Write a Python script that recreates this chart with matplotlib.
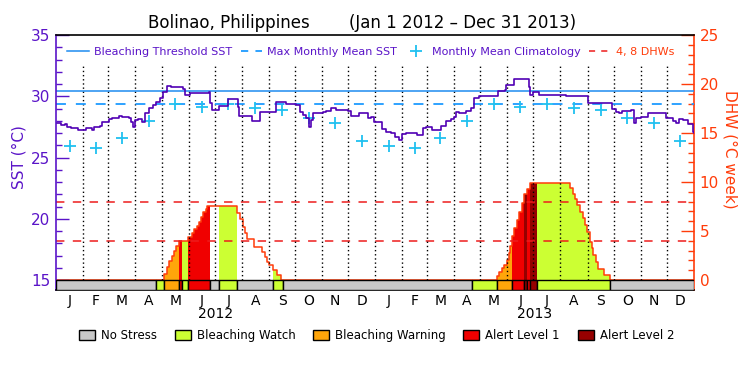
"""Coral Reef Watch style SST / DHW chart for Bolinao, Philippines (2012-2013)."""

import matplotlib.pyplot as plt
import numpy as np
from matplotlib.lines import Line2D
from matplotlib.patches import Patch

# ---- data (days counted from Jan 1 2012) ----
sst_day = [0, 6, 10, 13, 17, 25, 34, 41, 44, 50, 53, 61, 64, 72, 76, 84, 86, 88, 90, 94,
           98, 102, 107, 111, 115, 119, 123, 127, 132, 145, 148, 153, 175, 176.5, 179, 183,
           187, 197, 207, 209, 210, 223, 225, 231, 234, 247, 252, 260, 263, 275, 279, 283,
           286, 290, 292, 295, 298, 306, 309, 315, 321, 334, 338, 347, 353, 357, 361, 364,
           367, 370, 373, 378, 384, 388, 393, 396, 401, 412, 414, 420, 424, 428, 431, 435,
           441, 447, 453, 456, 458, 462, 470, 475, 479, 485, 504, 507, 514, 516, 521, 525,
           540, 542, 543, 546, 553, 582, 584, 606, 609, 634, 637, 642, 645, 649, 659, 662,
           665, 670, 678, 694, 699, 707, 710, 714, 718, 724, 730, 731]
sst_val = [27.79, 27.65, 27.73, 27.47, 27.38, 27.24, 27.38, 27.24, 27.51, 27.57, 27.93, 28.12,
           28.20, 28.41, 28.28, 28.25, 27.93, 27.47, 28.06, 28.12, 27.93, 28.66, 29.01, 29.29,
           29.56, 29.88, 30.37, 30.84, 30.73, 30.57, 30.10, 30.29, 30.35, 29.42, 28.88, 28.85,
           29.20, 29.75, 29.75, 29.15, 28.39, 28.39, 27.98, 27.98, 28.74, 28.74, 29.53, 29.56,
           29.34, 29.29, 28.74, 28.47, 28.20, 27.51, 28.06, 28.66, 28.60, 28.74, 28.82, 29.01,
           28.88, 28.82, 28.41, 28.66, 28.60, 28.20, 28.28, 27.93, 27.90, 27.93, 27.30, 27.11,
           26.97, 26.65, 26.43, 26.92, 26.97, 26.97, 26.84, 27.38, 27.51, 27.47, 27.24, 27.24,
           27.57, 28.00, 28.12, 28.33, 28.74, 28.66, 28.82, 29.01, 29.82, 30.02, 30.02, 30.45,
           30.51, 30.92, 30.92, 31.38, 31.38, 30.78, 30.10, 30.37, 30.10, 30.10, 30.02, 30.02,
           29.42, 29.42, 28.93, 28.74, 28.66, 28.82, 28.88, 27.79, 28.20, 28.33, 28.66, 28.66,
           28.20, 28.00, 27.79, 28.12, 28.06, 27.73, 27.11, 26.97]

clim_val = [25.96, 25.74, 26.57, 27.94, 29.34, 29.15, 29.34, 29.07, 28.84, 28.22, 27.79, 26.32]
threshold_sst = 30.4
mmm_sst = 29.36
dhw_marks = [4, 8]

dhw_day = [0, 124.1, 126.8, 129.8, 132.6, 135.2, 137.5, 141.3, 151.6, 155.5, 158.1, 161.2,
           163.9, 166.2, 168.8, 171.5, 173.4, 207.7, 210.8, 213.9, 216.6, 219.2, 226.9, 235.7,
           239.5, 242.1, 244.4, 249.0, 252.9, 257.5,
           505.7, 508.0, 510.7, 513.3, 516.4, 518.5, 520.5, 522.8, 525.1, 527.9, 530.9, 533.6,
           536.6, 540.0, 543.1, 589.0, 592.0, 594.7, 597.3, 600.4, 603.5, 606.1, 608.8, 611.9,
           613.8, 615.7, 618.8, 621.4, 627.9, 634.8, 731]
dhw_val = [0, 0.58, 1.36, 1.94, 2.45, 2.99, 3.47, 3.98, 4.42, 4.76, 5.17, 5.51,
           5.95, 6.46, 6.97, 7.21, 7.55, 6.80, 6.19, 5.44, 4.76, 4.15, 3.40, 2.89,
           2.38, 1.87, 1.53, 1.02, 0.51, 0,
           0.41, 0.85, 1.19, 1.53, 2.04, 2.72, 3.47, 4.49, 5.27, 6.12, 6.97, 7.82,
           8.78, 9.29, 9.86, 9.35, 8.78, 8.23, 7.65, 6.97, 6.29, 5.61, 4.93, 3.91,
           3.23, 2.55, 1.87, 1.09, 0.51, 0, 0]

status_start = [0, 114.2, 124.1, 141.3, 144.0, 151.6, 176.5, 187.1, 207.7, 249.0, 259.8,
                477.2, 505.7, 522.8, 536.6, 540.0, 543.1, 550.8, 634.8]
status_end = [114.2, 124.1, 141.3, 144.0, 151.6, 176.5, 187.1, 207.7, 249.0, 259.8, 477.2,
              505.7, 522.8, 536.6, 540.0, 543.1, 550.8, 634.8, 731]
status_level = [0, 1, 2, 3, 1, 3, 0, 1, 0, 1, 0,
                1, 2, 3, 4, 3, 4, 1, 0]

level_names = ["No Stress", "Bleaching Watch", "Bleaching Warning", "Alert Level 1", "Alert Level 2"]
level_colors = ["#c8c8c8", "#ccff33", "#ffa50a", "#f00000", "#960000"]
month_letters = list("JFMAMJJASOND") * 2
year_labels = ["2012", "2013"]

PURPLE = "#5a14c8"
SST_LINE = "#5000b4"
ORANGE = "#ff3c0a"
BLUE = "#1e8cf0"
CYAN = "#20c0f0"
RED = "#ee1c1c"

# month edges / centres from the calendar
months = np.arange("2012-01", "2014-02", dtype="datetime64[M]")
month_edge = (months.astype("datetime64[D]") - np.datetime64("2012-01-01")).astype(float)
month_mid = (month_edge[:-1] + month_edge[1:]) / 2
year_mid = [(month_edge[0] + month_edge[12]) / 2, (month_edge[12] + month_edge[24]) / 2]

SST_LO = 15 - 10 / 12.25
DHW_LO = -10 / 9.8

fig = plt.figure(figsize=(7.5, 3.75), dpi=100)
ax = fig.add_axes([56 / 750, 1 - 290 / 375, 638 / 750, 255 / 375])
ax2 = ax.twinx()
ax.set_zorder(ax2.get_zorder() + 1)
ax.patch.set_visible(False)

ax.set_xlim(month_edge[0], month_edge[-1])
ax.set_ylim(SST_LO, 35)
ax2.set_ylim(DHW_LO, 25)

# DHW area coloured by status, then its outline
dhw_day_arr = np.array(dhw_day)
dhw_val_arr = np.array(dhw_val)


def dhw_at(d):
    i = np.searchsorted(dhw_day_arr, d, side="right") - 1
    return dhw_val_arr[i]


for s, e, lev in zip(status_start, status_end, status_level):
    if lev == 0:
        continue
    xs = [s] + [d for d in dhw_day if s < d < e] + [e]
    ys = [dhw_at(x) for x in xs]
    ax2.fill_between(xs, 0, ys, step="post", color=level_colors[lev], linewidth=0)

ax2.step(dhw_day, dhw_val, where="post", color=ORANGE, linewidth=1.1)
for m in dhw_marks:
    ax2.axhline(m, color=RED, linewidth=1.1, dashes=(5.5, 5.5))

# SST part
ax.vlines(month_edge[1:-1], 15, 32.55, colors="black", linestyles=(0, (1, 2)), linewidth=1)
ax.axhline(threshold_sst, color=BLUE, linewidth=1.1)
ax.axhline(mmm_sst, color="#1e9bff", linewidth=1.3, dashes=(5.5, 5.5))
ax.plot(month_mid, clim_val * 2, linestyle="none", marker="+", markersize=8,
        markeredgewidth=1.3, color=CYAN)
ax.plot(sst_day, sst_val, drawstyle="steps-post", color=SST_LINE, linewidth=1.2)

# status bar below the SST axis
ax.bar(status_start, 15 - SST_LO, width=np.subtract(status_end, status_start), bottom=SST_LO,
       align="edge", color=[level_colors[l] for l in status_level], edgecolor="black",
       linewidth=1, zorder=3)

# axes styling
for side in ["left", "right", "top", "bottom"]:
    ax2.spines[side].set_visible(False)
ax.spines["right"].set_visible(False)
ax2.spines["right"].set_visible(True)
ax2.spines["right"].set_color(ORANGE)
ax2.spines["right"].set_linewidth(1.2)
ax.spines["left"].set_color(PURPLE)
ax.spines["left"].set_linewidth(1.2)
ax.spines["top"].set_linewidth(1.2)
ax.spines["bottom"].set_linewidth(1.2)

ax.set_yticks(np.arange(15, 36, 5))
ax.set_yticks(np.arange(16, 35, 1), minor=True)
ax.tick_params(axis="y", which="major", direction="in", length=9.5, width=1, colors=PURPLE,
               labelsize=11, pad=4)
ax.tick_params(axis="y", which="minor", direction="in", length=4.5, width=1, colors=PURPLE)
ax2.set_yticks(np.arange(0, 26, 5))
ax2.set_yticks(np.arange(1, 25, 1), minor=True)
ax2.tick_params(axis="y", which="major", direction="in", length=9.5, width=1, colors=ORANGE,
                labelsize=11, pad=4)
ax2.tick_params(axis="y", which="minor", direction="in", length=4.5, width=1, colors=ORANGE)

ax.set_xticks(month_mid, month_letters)
ax.tick_params(axis="x", length=0, labelsize=10, pad=3)
for x, lab in zip(year_mid, year_labels):
    ax.text(x, -0.094, lab, transform=ax.get_xaxis_transform(), ha="center", va="center",
            fontsize=10)

ax.set_ylabel("SST (°C)", color=PURPLE, fontsize=11)
ax.yaxis.set_label_coords(-0.047, 0.52)
ax2.set_ylabel("DHW (°C week)", color=ORANGE, fontsize=11, rotation=270, va="bottom")
ax2.yaxis.set_label_coords(1.045, 0.55)

# titles
fig.text(148 / 750, 1 - 28 / 375, "Bolinao, Philippines", fontsize=12, ha="left", va="baseline")
fig.text(349 / 750, 1 - 28 / 375, "(Jan 1 2012 – Dec 31 2013)", fontsize=12, ha="left",
         va="baseline")

# inner legend
handles = [
    Line2D([], [], color=BLUE, linewidth=1.1),
    Line2D([], [], color="#1e9bff", linewidth=1.3, dashes=(4, 4)),
    Line2D([], [], color=CYAN, linestyle="none", marker="+", markersize=8, markeredgewidth=1.3),
    Line2D([], [], color=RED, linewidth=1.1, dashes=(4, 4)),
]
labels = ["Bleaching Threshold SST", "Max Monthly Mean SST", "Monthly Mean Climatology", "4, 8 DHWs"]
leg = ax.legend(handles, labels, loc="center left", bbox_to_anchor=(0.018, 0.935), ncol=4,
                frameon=False, fontsize=8, handlelength=1.9, handletextpad=0.5,
                columnspacing=0.75, borderpad=0, borderaxespad=0)
for txt, c in zip(leg.get_texts(), [PURPLE, PURPLE, PURPLE, ORANGE]):
    txt.set_color(c)

# status legend
status_handles = [Patch(facecolor=c, edgecolor="black", linewidth=1) for c in level_colors]
fig.legend(status_handles, level_names, loc="center", bbox_to_anchor=(0.502, 0.105), ncol=5,
           frameon=False, fontsize=8.5, handlelength=1.36, handleheight=0.97,
           handletextpad=0.5, columnspacing=1.5)

fig.savefig("out.png", dpi=100)
